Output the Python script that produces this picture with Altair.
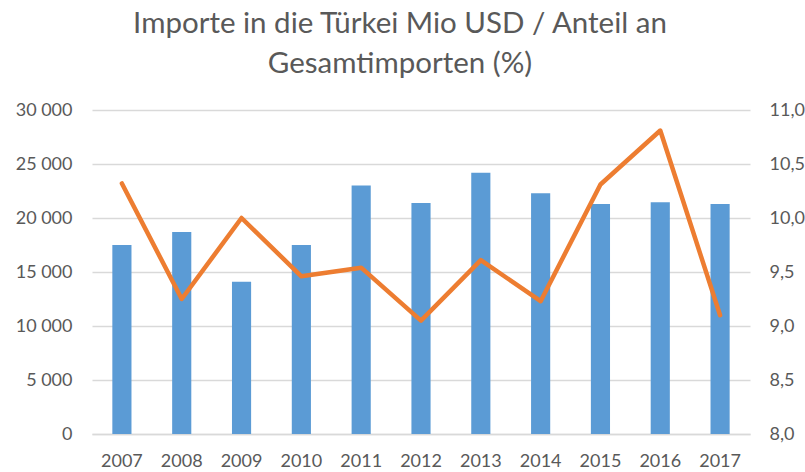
import altair as alt
import pandas as pd

years = ["2007", "2008", "2009", "2010", "2011", "2012", "2013", "2014", "2015", "2016", "2017"]
imports_mio_usd = [17500, 18700, 14100, 17500, 23000, 21400, 24200, 22300, 21300, 21450, 21300]
share_pct = [10.32, 9.25, 10.0, 9.46, 9.54, 9.05, 9.61, 9.23, 10.31, 10.81, 9.10]
title_lines = ["Importe in die Türkei Mio USD / Anteil an", "Gesamtimporten (%)"]
left_ticks = [0, 5000, 10000, 15000, 20000, 25000, 30000]
right_ticks = [8.0, 8.5, 9.0, 9.5, 10.0, 10.5, 11.0]

df = pd.DataFrame({"Jahr": years, "Importe": imports_mio_usd, "Anteil": share_pct})

FONT = "Lato"
GREY = "#595959"
LBL = 18

x = alt.X(
    "Jahr:N",
    sort=years,
    title=None,
    scale=alt.Scale(paddingInner=0.68, paddingOuter=0.34),
    axis=alt.Axis(
        labelAngle=0, ticks=False, domainColor="#d9d9d9", domainWidth=1.5,
        labelFontSize=LBL, labelColor=GREY, labelFont=FONT, labelPadding=18,
    ),
)

bars = alt.Chart(df).mark_bar(color="#5B9BD5").encode(
    x=x,
    y=alt.Y(
        "Importe:Q",
        title=None,
        scale=alt.Scale(domain=[0, 30000], nice=False),
        axis=alt.Axis(
            values=left_ticks, ticks=False, domain=False, grid=True,
            gridColor="#d9d9d9", gridWidth=1.5,
            labelExpr="replace(format(datum.value, ','), ',', ' ')",
            labelFontSize=LBL, labelColor=GREY, labelFont=FONT, labelPadding=20,
        ),
    ),
)

line = alt.Chart(df).mark_line(color="#ED7D31", strokeWidth=4.5, strokeCap="round", strokeJoin="round").encode(
    x=x,
    y=alt.Y(
        "Anteil:Q",
        title=None,
        scale=alt.Scale(domain=[8.0, 11.0], nice=False, zero=False),
        axis=alt.Axis(
            orient="right", values=right_ticks, ticks=False, domain=False, grid=False,
            labelExpr="replace(format(datum.value, '.1f'), '.', ',')",
            labelFontSize=LBL, labelColor=GREY, labelFont=FONT, labelPadding=19,
        ),
    ),
)

chart = alt.layer(bars, line).resolve_scale(y="independent").properties(
    width=658,
    height=324,
    autosize=alt.AutoSizeParams(type="none"),
    padding={"left": 92, "top": 110, "right": 55, "bottom": 38},
    title=alt.TitleParams(
        text=title_lines, fontSize=29.5, font=FONT, color=GREY, fontWeight="normal",
        anchor="middle", dx=-21, offset=22, lineHeight=40,
    ),
).configure_view(stroke=None)

chart.save("out.html", embed_options={"renderer": "svg", "actions": False})
